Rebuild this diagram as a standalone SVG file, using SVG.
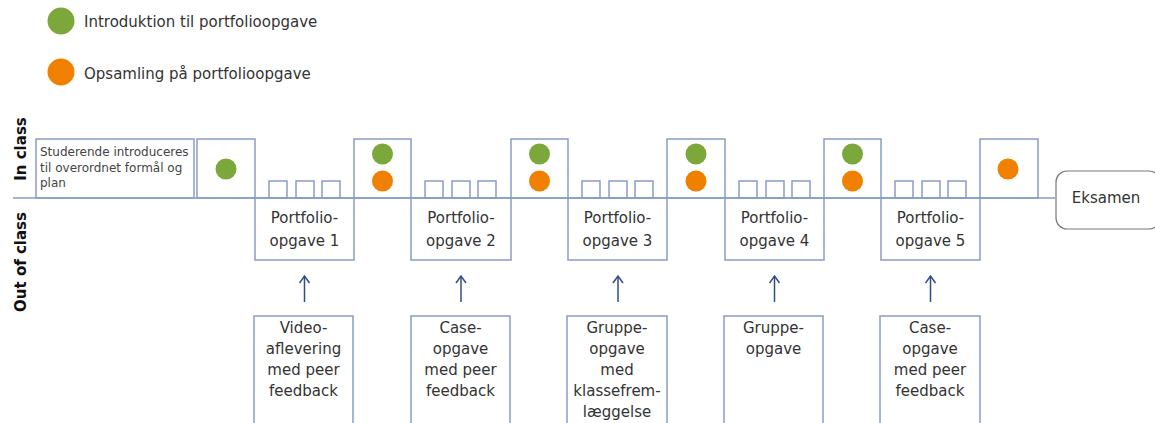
<svg xmlns="http://www.w3.org/2000/svg" width="1155" height="423" viewBox="0 0 1155 423">
<defs>
<style>
.b{fill:none;stroke:#8A9CC6;stroke-width:1.5}
.t{font-family:"DejaVu Sans","Liberation Sans",sans-serif;font-size:15px;fill:#333;text-anchor:middle}
.s{font-family:"DejaVu Sans","Liberation Sans",sans-serif;font-size:12px;fill:#444}
.l{font-family:"DejaVu Sans","Liberation Sans",sans-serif;font-size:15px;fill:#333}
.h{font-family:"DejaVu Sans","Liberation Sans",sans-serif;font-size:15px;font-weight:bold;fill:#111;text-anchor:middle}
.g{fill:#7CA73B}
.o{fill:#EF8000}
.a{stroke:#2F4D8A;stroke-width:1.5;fill:none}
</style>
<marker id="ah" markerWidth="12" markerHeight="12" refX="9" refY="6" orient="auto" markerUnits="userSpaceOnUse" viewBox="0 0 12 12">
<path d="M2,1 L9,6 L2,11" fill="none" stroke="#2F4D8A" stroke-width="1.5"/>
</marker>
</defs>
<rect width="1155" height="423" fill="#fff"/>
<g id="legend">
<circle cx="61" cy="21" r="13.5" class="g"/>
<text x="84" y="27" class="l">Introduktion til portfolioopgave</text>
<circle cx="61" cy="72" r="13.5" class="o"/>
<text x="84" y="79" class="l">Opsamling på portfolioopgave</text>
</g>
<g id="axis-labels">
<text class="h" transform="translate(26,149) rotate(-90)">In class</text>
<text class="h" transform="translate(26,262) rotate(-90)">Out of class</text>
</g>
<g id="connectors">
<line x1="13" y1="198" x2="1055" y2="198" class="b"/>
<line x1="304.5" y1="302" x2="304.5" y2="276" class="a" marker-end="url(#ah)"/>
<line x1="461" y1="302" x2="461" y2="276" class="a" marker-end="url(#ah)"/>
<line x1="618" y1="302" x2="618" y2="276" class="a" marker-end="url(#ah)"/>
<line x1="774.5" y1="302" x2="774.5" y2="276" class="a" marker-end="url(#ah)"/>
<line x1="930.5" y1="302" x2="930.5" y2="276" class="a" marker-end="url(#ah)"/>
</g>
<g id="intro">
<rect x="36" y="139" width="158" height="59" class="b"/>
<text class="s"><tspan x="40" y="156">Studerende introduceres</tspan><tspan x="40" y="172">til overordnet formål og</tspan><tspan x="40" y="187">plan</tspan></text>
</g>
<g id="class1">
<rect x="197" y="139" width="58" height="59" class="b"/>
<circle cx="226" cy="169" r="10.5" class="g"/>
</g>
<g id="class2">
<rect x="354" y="139" width="57" height="59" class="b"/>
<circle cx="382.5" cy="154" r="10.5" class="g"/>
<circle cx="382.5" cy="181" r="10.5" class="o"/>
</g>
<g id="class3">
<rect x="511" y="139" width="57" height="59" class="b"/>
<circle cx="539.5" cy="154" r="10.5" class="g"/>
<circle cx="539.5" cy="181" r="10.5" class="o"/>
</g>
<g id="class4">
<rect x="667" y="139" width="58" height="59" class="b"/>
<circle cx="696" cy="154" r="10.5" class="g"/>
<circle cx="696" cy="181" r="10.5" class="o"/>
</g>
<g id="class5">
<rect x="824" y="139" width="57" height="59" class="b"/>
<circle cx="852.5" cy="154" r="10.5" class="g"/>
<circle cx="852.5" cy="181" r="10.5" class="o"/>
</g>
<g id="class6">
<rect x="980" y="139" width="58" height="59" class="b"/>
<circle cx="1008" cy="169" r="10.5" class="o"/>
</g>
<g id="portfolio1">
<rect x="255" y="198" width="99" height="62" class="b"/>
<rect x="269" y="181" width="18" height="17" class="b"/><rect x="296" y="181" width="18" height="17" class="b"/><rect x="322" y="181" width="18" height="17" class="b"/>
<text class="t"><tspan x="304.5" y="223">Portfolio-</tspan><tspan x="304.5" y="246">opgave  1</tspan></text>
</g>
<g id="portfolio2">
<rect x="411" y="198" width="100" height="62" class="b"/>
<rect x="425" y="181" width="18" height="17" class="b"/><rect x="452" y="181" width="18" height="17" class="b"/><rect x="478" y="181" width="18" height="17" class="b"/>
<text class="t"><tspan x="461" y="223">Portfolio-</tspan><tspan x="461" y="246">opgave  2</tspan></text>
</g>
<g id="portfolio3">
<rect x="568" y="198" width="99" height="62" class="b"/>
<rect x="582" y="181" width="18" height="17" class="b"/><rect x="609" y="181" width="18" height="17" class="b"/><rect x="635" y="181" width="18" height="17" class="b"/>
<text class="t"><tspan x="617.5" y="223">Portfolio-</tspan><tspan x="617.5" y="246">opgave  3</tspan></text>
</g>
<g id="portfolio4">
<rect x="725" y="198" width="99" height="62" class="b"/>
<rect x="739" y="181" width="18" height="17" class="b"/><rect x="766" y="181" width="18" height="17" class="b"/><rect x="792" y="181" width="18" height="17" class="b"/>
<text class="t"><tspan x="774.5" y="223">Portfolio-</tspan><tspan x="774.5" y="246">opgave  4</tspan></text>
</g>
<g id="portfolio5">
<rect x="881" y="198" width="99" height="62" class="b"/>
<rect x="895" y="181" width="18" height="17" class="b"/><rect x="922" y="181" width="18" height="17" class="b"/><rect x="948" y="181" width="18" height="17" class="b"/>
<text class="t"><tspan x="930.5" y="223">Portfolio-</tspan><tspan x="930.5" y="246">opgave  5</tspan></text>
</g>
<g id="eksamen">
<rect x="1056" y="171" width="104" height="58" rx="11" fill="#fff" stroke="#777" stroke-width="1.2"/>
<text x="1106" y="203" class="t">Eksamen</text>
</g>
<g id="task1">
<rect x="254" y="316" width="99" height="120" class="b"/>
<text class="t"><tspan x="303.5" y="333">Video-</tspan><tspan x="303.5" y="354">aflevering</tspan><tspan x="303.5" y="375">med peer</tspan><tspan x="303.5" y="396">feedback</tspan></text>
</g>
<g id="task2">
<rect x="411" y="316" width="99" height="120" class="b"/>
<text class="t"><tspan x="460.5" y="333">Case-</tspan><tspan x="460.5" y="354">opgave</tspan><tspan x="460.5" y="375">med peer</tspan><tspan x="460.5" y="396">feedback</tspan></text>
</g>
<g id="task3">
<rect x="567" y="316" width="100" height="120" class="b"/>
<text class="t"><tspan x="617" y="333">Gruppe-</tspan><tspan x="617" y="354">opgave</tspan><tspan x="617" y="375">med</tspan><tspan x="617" y="396">klassefrem-</tspan><tspan x="617" y="417">læggelse</tspan></text>
</g>
<g id="task4">
<rect x="724" y="316" width="99" height="120" class="b"/>
<text class="t"><tspan x="773.5" y="333">Gruppe-</tspan><tspan x="773.5" y="354">opgave</tspan></text>
</g>
<g id="task5">
<rect x="880" y="316" width="100" height="120" class="b"/>
<text class="t"><tspan x="930" y="333">Case-</tspan><tspan x="930" y="354">opgave</tspan><tspan x="930" y="375">med peer</tspan><tspan x="930" y="396">feedback</tspan></text>
</g>
</svg>
